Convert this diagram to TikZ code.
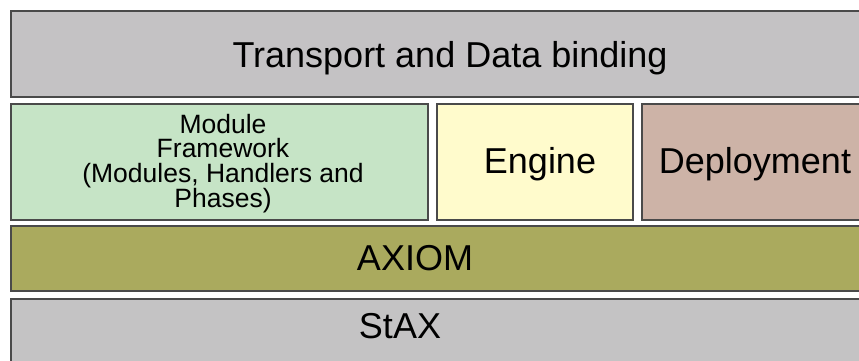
\documentclass[tikz,border=0pt]{standalone}
\usepackage{fontspec}
\setmainfont{Liberation Sans}
\usepackage{xcolor}
\definecolor{colorTransport}{HTML}{C4C2C4}
\definecolor{colorModule}{HTML}{C6E4C6}
\definecolor{colorEngine}{HTML}{FFFBCC}
\definecolor{colorDeploy}{HTML}{CDB3A7}
\definecolor{colorAxiom}{HTML}{AAAA5E}
\definecolor{colorStax}{HTML}{C4C3C4}
\definecolor{colorEdge}{HTML}{4A4A4A}
\usepackage{tikz}
\usetikzlibrary{positioning}
\tikzset{layer/.style={rectangle, draw=colorEdge, line width=2pt, inner sep=0pt, anchor=north west},
  tag/.style={inner sep=0pt, anchor=base, font=\fontsize{36}{36}\selectfont}}

\begin{document}
\begin{tikzpicture}[x=1pt, y=-1pt]
\clip (0,0) rectangle (859,360);
\fill[white] (0,0) rectangle (859,360);
% layers
\node[layer, fill=colorTransport, minimum width=900pt, minimum height=86pt] (transport) at (10,10) {};
\node[layer, fill=colorModule, minimum width=417pt, minimum height=116pt] (module) at (10,103) {};
\node[layer, fill=colorEngine, minimum width=196pt, minimum height=116pt] (engine) at (436,103) {};
\node[layer, fill=colorDeploy, minimum width=260pt, minimum height=116pt] (deploy) at (641,103) {};
\node[layer, fill=colorAxiom, minimum width=900pt, minimum height=65pt] (axiom) at (10,225) {};
\node[layer, fill=colorStax, minimum width=900pt, minimum height=66pt] (stax) at (10,298) {};
% texts
\node[tag] (transportText) at (450,67) {Transport and Data binding};
\node[tag, anchor=center, align=center, font=\fontsize{26.5}{24.5}\selectfont] (moduleText) at (223,163.5) {Module\\Framework\\(Modules, Handlers and\\Phases)};
\node[tag] (engineText) at (540,173) {Engine};
\node[tag] (deployText) at (755,173) {Deployment};
\node[tag] (axiomText) at (415,270) {AXIOM};
\node[tag] (staxText) at (400,338) {StAX};
\end{tikzpicture}
\end{document}
